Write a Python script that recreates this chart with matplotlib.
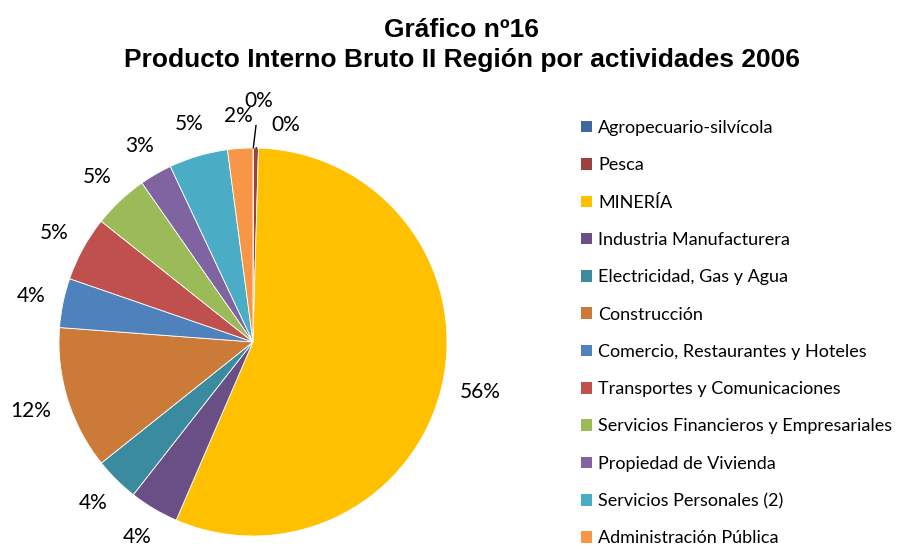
import numpy as np
import matplotlib
matplotlib.use("Agg")
import matplotlib.pyplot as plt
from matplotlib.patches import Patch

# data (share of regional GDP, %)
actividades = ["Agropecuario-silvícola", "Pesca", "MINERÍA", "Industria Manufacturera",
               "Electricidad, Gas y Agua", "Construcción", "Comercio, Restaurantes y Hoteles",
               "Transportes y Comunicaciones", "Servicios Financieros y Empresariales",
               "Propiedad de Vivienda", "Servicios Personales (2)", "Administración Pública"]
valores = [0.05, 0.4, 56.0, 4.1, 3.7, 11.9, 4.1, 5.4, 4.6, 2.7, 4.9, 2.1]
colores = ["#3E689F", "#9E413E", "#FFC000", "#6A4F86", "#3B8BA0", "#CC7A38",
           "#4F81BD", "#C0504D", "#9BBB59", "#8064A2", "#4BACC6", "#F79646"]

W, H = 902, 549
fig = plt.figure(figsize=(W / 100, H / 100), dpi=100)
fig.patch.set_facecolor("white")

label_font = "Lato"

# pie axes: centre ~(253, 342) px, radius ~194 px
cx, cy, r = 253, 342, 194
ax = fig.add_axes([(cx - r) / W, (H - cy - r) / H, 2 * r / W, 2 * r / H])

wedges, _ = ax.pie(valores, colors=colores, startangle=90, counterclock=False,
                   radius=1, wedgeprops=dict(linewidth=0.6, edgecolor="white"))
ax.set_xlim(-1, 1)
ax.set_ylim(-1, 1)
ax.axis("off")

total = sum(valores)
for i, w in enumerate(wedges):
    pct = valores[i] / total * 100
    txt = f"{pct:.0f}%"
    mid = np.deg2rad((w.theta1 + w.theta2) / 2)
    if i == 0:
        ax.annotate(txt, xy=(np.cos(mid), np.sin(mid)), xytext=(0.03, 1.24),
                    ha="center", va="center", fontsize=15, family=label_font,
                    arrowprops=dict(arrowstyle="-", color="black", lw=1,
                                    shrinkA=8, shrinkB=0))
    elif i == 1:
        ax.annotate(txt, xy=(np.cos(mid), np.sin(mid)), xytext=(0.17, 1.12),
                    ha="center", va="center", fontsize=15, family=label_font,
                    arrowprops=dict(arrowstyle="-", color="black", lw=1,
                                    shrinkA=12, shrinkB=0))
    else:
        rr = 1.2 if pct > 10 else 1.17
        ax.text(rr * np.cos(mid), rr * np.sin(mid), txt, ha="center", va="center",
                fontsize=15, family=label_font)

fig.text(462 / W, 1 - 30 / H, "Gráfico nº16", ha="center", va="center",
         fontsize=19, fontweight="bold", family="Liberation Sans")
fig.text(462 / W, 1 - 60 / H, "Producto Interno Bruto II Región por actividades 2006",
         ha="center", va="center", fontsize=19, fontweight="bold", family="Liberation Sans")

handles = [Patch(facecolor=c, edgecolor="none") for c in colores]
fig.legend(handles, actividades, loc="upper left", bbox_to_anchor=(581 / W, 1 - 120 / H),
           frameon=False, prop=dict(family=label_font, size=13),
           handlelength=0.6, handleheight=0.6, handletextpad=0.35,
           labelspacing=1.18, borderpad=0, borderaxespad=0)

fig.savefig("out.png", dpi=100, facecolor="white")
